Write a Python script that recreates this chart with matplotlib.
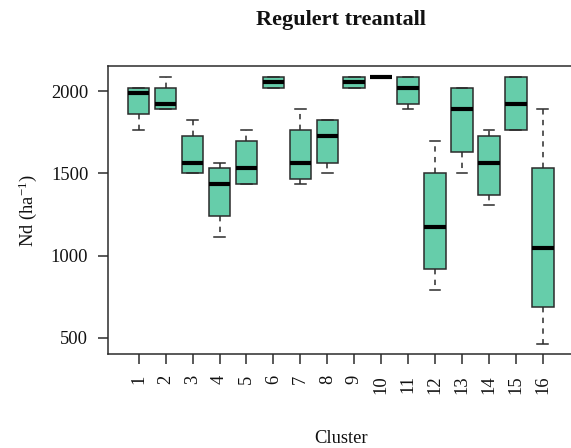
import matplotlib
matplotlib.use("Agg")
import matplotlib.pyplot as plt

plt.rcParams["font.family"] = ["Liberation Serif", "DejaVu Serif"]
plt.rcParams["mathtext.fontset"] = "custom"
plt.rcParams["mathtext.rm"] = "Liberation Serif"
plt.rcParams["mathtext.it"] = "Liberation Serif:italic"
plt.rcParams["mathtext.bf"] = "Liberation Serif:bold"

# Five-number summaries of stand density per cluster
clusters = ["1", "2", "3", "4", "5", "6", "7", "8",
            "9", "10", "11", "12", "13", "14", "15", "16"]
whisker_low = [1762, 1890, 1501, 1111, 1436, 2021, 1436, 1501,
               2021, 2088, 1890, 790, 1501, 1308, 1762, 462]
quartile_1 = [1860, 1890, 1501, 1243, 1436, 2021, 1468, 1566,
              2021, 2088, 1925, 916, 1631, 1371, 1762, 689]
medians = [1990, 1925, 1566, 1436, 1535, 2055, 1566, 1730,
           2055, 2088, 2021, 1176, 1890, 1566, 1925, 1046]
quartile_3 = [2021, 2021, 1730, 1533, 1698, 2085, 1762, 1826,
              2085, 2088, 2085, 1501, 2021, 1730, 2085, 1533]
whisker_high = [2021, 2085, 1826, 1566, 1762, 2085, 1890, 1826,
                2085, 2088, 2085, 1698, 2021, 1762, 2085, 1890]
y_ticks = [500, 1000, 1500, 2000]

W, H = 571, 448
fig = plt.figure(figsize=(W / 100, H / 100), dpi=100)
ax = fig.add_axes([108 / W, 94 / H, 465.5 / W, 288 / H])

stats = []
for lab, lo, q1, med, q3, hi in zip(clusters, whisker_low, quartile_1,
                                    medians, quartile_3, whisker_high):
    stats.append(dict(label=lab, whislo=lo, q1=q1, med=med, q3=q3,
                      whishi=hi, fliers=[]))

edge = "#2b2b2b"
positions = list(range(1, len(clusters) + 1))
ax.bxp(stats, positions=positions, widths=0.8, capwidths=0.4,
       patch_artist=True, showfliers=False,
       boxprops=dict(facecolor="#66CDAA", edgecolor=edge, linewidth=1.1),
       medianprops=dict(color="black", linewidth=3.0, solid_capstyle="butt"),
       whiskerprops=dict(color=edge, linewidth=1.1, linestyle=(0, (3.5, 3.5))),
       capprops=dict(color=edge, linewidth=1.1))

ax.set_xlim(-0.14, 17.14)
ax.set_ylim(400, 2155)
ax.set_yticks(y_ticks)
ax.set_yticklabels([str(v) for v in y_ticks])
ax.set_xticks(positions)
ax.set_xticklabels(clusters, rotation=90, va="top", ha="center")

for s in ax.spines.values():
    s.set_color(edge)
    s.set_linewidth(1.1)
ax.tick_params(axis="both", direction="out", length=7.2, width=1.1,
               color=edge, labelsize=13.3, labelcolor="#111111")
ax.tick_params(axis="y", pad=7.0)
ax.tick_params(axis="x", pad=8.0)

cx = (108 + 573.5) / 2 / W
fig.text(cx, 1 - 20 / H, "Regulert treantall", ha="center", va="center",
         fontsize=16, fontweight="bold", color="#111111")
fig.text(cx, 1 - 443 / H, "Cluster", ha="center", va="baseline",
         fontsize=13.3, color="#111111")
fig.text(33 / W, 1 - 211 / H, r"Nd (ha$^{\mathregular{-1}}$)", ha="center",
         va="baseline", rotation=90, fontsize=13.3, color="#111111",
         rotation_mode="anchor")

fig.savefig("out.png", dpi=100)
